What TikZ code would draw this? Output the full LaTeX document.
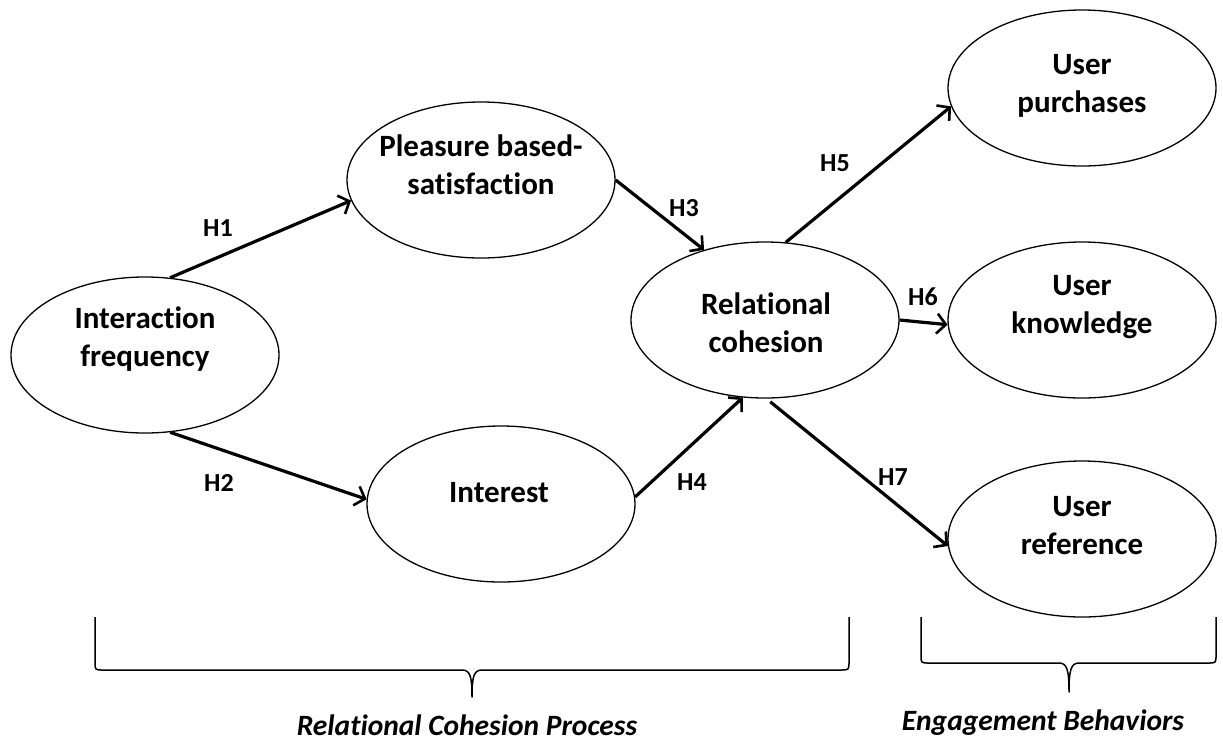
\documentclass[tikz,border=0pt]{standalone}
\usepackage{fontspec}
\setmainfont{Carlito}[Ligatures=NoCommon]
\usetikzlibrary{shapes.geometric,arrows.meta}
\begin{document}
\begin{tikzpicture}[x=1pt,y=-1pt,
  construct/.style={draw,ellipse,line width=1.3pt,minimum width=268pt,minimum height=156pt,inner sep=0pt},
  ctext/.style={align=center,font=\fontsize{31}{38}\selectfont\bfseries,inner sep=0pt},
  hyp/.style={line width=3.2pt,-{Straight Barb[length=9pt,width=20pt,line width=2.6pt]}},
  hlab/.style={font=\fontsize{26}{30}\selectfont\bfseries,inner sep=0pt},
  brace/.style={line width=1.5pt,line join=round},
  blab/.style={font=\fontsize{29.5}{34}\selectfont\bfseries\itshape,inner sep=0pt,anchor=base}]
\useasboundingbox (0,0) rectangle (1223,745);
% constructs
\node[construct] (if)  at (145,355) {};
\node[construct] (pbs) at (481,180) {};
\node[construct] (int) at (501,504) {};
\node[construct] (rel) at (765,320) {};
\node[construct] (pur) at (1082,88) {};
\node[construct] (kno) at (1082,320) {};
\node[construct] (ref) at (1082,539) {};
% texts
\node[ctext] (ift)  at (145,339) {Interaction\\frequency};
\node[ctext] (pbst) at (481,165) {Pleasure based-\\satisfaction};
\node[ctext] (intt) at (499,493) {Interest};
\node[ctext] (relt) at (766,323) {Relational\\cohesion};
\node[ctext] (purt) at (1082,86) {User\\purchases};
\node[ctext] (knot) at (1082,307) {User\\knowledge};
\node[ctext] (reft) at (1082,526) {User\\reference};
% hypotheses
\draw[hyp] (if.72) -- (pbs.189);
\draw[hyp] (if.288) -- (int.178);
\draw[hyp] (pbs.0) -- (rel.131);
\draw[hyp] (int.3) -- (rel.254);
\draw[hyp] (rel.75) -- (pur.188);
\draw[hyp] (rel.0) -- (kno.182);
\draw[hyp,shorten <=5pt] (rel.271) -- (ref.183.5);
\node[hlab] (h1) at (218,228) {H1};
\node[hlab] (h2) at (219,483) {H2};
\node[hlab] (h3) at (684,208) {H3};
\node[hlab] (h4) at (692,482) {H4};
\node[hlab] (h5) at (835,163) {H5};
\node[hlab] (h6) at (923,297) {H6};
\node[hlab] (h7) at (893,477) {H7};
% braces
\draw[brace] (95,617) -- (95,662) .. controls (95,670) .. (103,670) -- (462,670)
  .. controls (470,670) and (472,676) .. (472,697)
  .. controls (472,676) and (474,670) .. (482,670) -- (840,670)
  .. controls (849,670) .. (849,662) -- (849,617);
\draw[brace] (921,617) -- (921,655) .. controls (921,663) .. (929,663) -- (1059,663)
  .. controls (1067,663) and (1069,670) .. (1069,692)
  .. controls (1069,670) and (1071,663) .. (1079,663) -- (1208,663)
  .. controls (1216,663) .. (1216,655) -- (1216,617);
\node[blab] (rcp) at (467,735) {Relational Cohesion Process};
\node[blab] (eb) at (1043,730) {Engagement Behaviors};
\end{tikzpicture}
\end{document}
